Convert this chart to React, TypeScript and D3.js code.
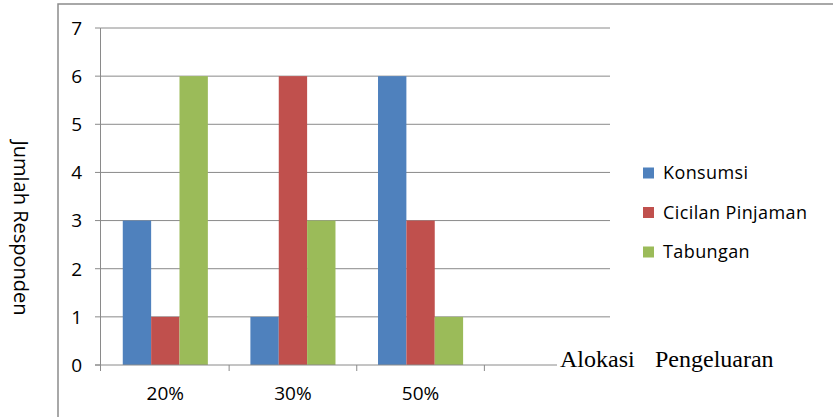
import React from "react";
import * as d3 from "d3";

const categories = ["20%", "30%", "50%", ""];
const seriesNames = ["Konsumsi", "Cicilan Pinjaman", "Tabungan"];
const konsumsi = [3, 1, 6];
const cicilan = [1, 6, 3];
const tabungan = [6, 3, 1];
const yTicks = [0, 1, 2, 3, 4, 5, 6, 7];
const colors = ["#4F81BD", "#C0504D", "#9BBB59"];

export default function App() {
  const W = 833, H = 417;
  const x0 = 101.5, x1 = 612, yTop = 28, yBot = 365;
  const axisX = 100.5;
  const x = d3.scaleBand<string>().domain(categories).range([x0, x1]).padding(0);
  const y = d3.scaleLinear().domain([0, 7]).range([yBot, yTop]);
  const bw = x.bandwidth() / 4.5;
  const inner = d3.scaleBand<string>().domain(seriesNames).range([0, bw * 3]).padding(0);
  const series = [konsumsi, cicilan, tabungan];
  const font = "'Open Sans', 'DejaVu Sans', sans-serif";
  const tickPositions = categories.map((c) => x(c) as number).concat([x1]);
  return (
    <svg width={W} height={H} style={{ position: "absolute", left: 0, top: 0, background: "#fff" }}>
      <rect x={58} y={4} width={900} height={500} fill="#fff" stroke="#8c8c8c" strokeWidth={1.5} />
      {yTicks.filter((t) => t > 0).map((t) => (
        <line key={"g" + t} x1={axisX} x2={610} y1={y(t)} y2={y(t)} stroke="#8a8a8a" strokeWidth={1} />
      ))}
      {series.map((vals, si) =>
        vals.map((v, ci) => (
          <rect
            key={si + "-" + ci}
            x={(x(categories[ci]) as number) + bw * 0.75 + (inner(seriesNames[si]) as number)}
            y={y(v)}
            width={inner.bandwidth()}
            height={y(0) - y(v)}
            fill={colors[si]}
          />
        ))
      )}
      <line x1={axisX} x2={axisX} y1={yTop} y2={yBot} stroke="#8a8a8a" strokeWidth={1} />
      {yTicks.map((t) => (
        <g key={"yt" + t}>
          <line x1={95} x2={axisX} y1={y(t)} y2={y(t)} stroke="#8a8a8a" strokeWidth={1} />
          <text x={82} y={y(t)} dy="0.36em" textAnchor="end" fontFamily={font} fontSize={19} fill="#000">
            {t}
          </text>
        </g>
      ))}
      <line x1={95} x2={x1} y1={yBot} y2={yBot} stroke="#8a8a8a" strokeWidth={1} />
      {tickPositions.map((p, i) => (
        <line key={"xt" + i} x1={i === 0 ? axisX : p} x2={i === 0 ? axisX : p} y1={yBot} y2={yBot + 6} stroke="#8a8a8a" strokeWidth={1} />
      ))}
      {categories.filter((c) => c !== "").map((c) => (
        <text key={c} x={(x(c) as number) + x.bandwidth() / 2} y={400} textAnchor="middle" fontFamily={font} fontSize={19} fill="#000">
          {c}
        </text>
      ))}
      <text
        transform={`translate(14, 228) rotate(90)`}
        textAnchor="middle"
        fontFamily={font}
        fontSize={20}
        fill="#000"
      >
        Jumlah Responden
      </text>
      {seriesNames.map((n, i) => (
        <g key={n} transform={`translate(643, ${173 + i * 39.5})`}>
          <rect x={0} y={-5.5} width={11} height={11} fill={colors[i]} />
          <text x={20} y={0} dy="0.36em" fontFamily={font} fontSize={18} fill="#000" letterSpacing={0.4}>
            {n}
          </text>
        </g>
      ))}
      <rect x={557} y={344} width={225} height={28} fill="#fff" />
      <text x={560} y={367} fontFamily="'Liberation Serif', 'DejaVu Serif', serif" fontSize={24} fill="#000">
        Alokasi
      </text>
      <text x={655} y={367} fontFamily="'Liberation Serif', 'DejaVu Serif', serif" fontSize={24} fill="#000">
        Pengeluaran
      </text>
    </svg>
  );
}
